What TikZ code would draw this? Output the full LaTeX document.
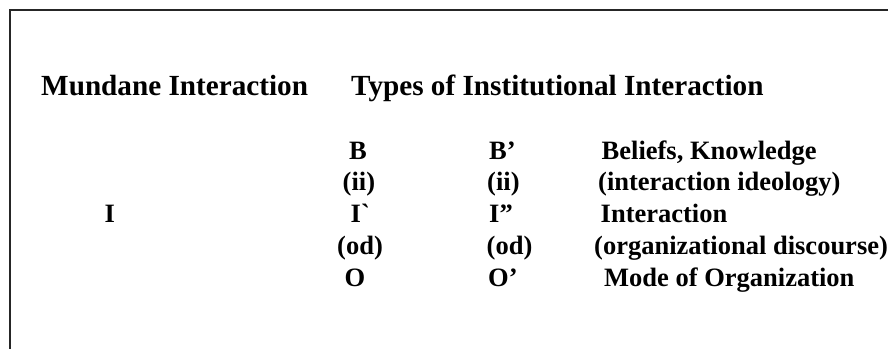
\documentclass[tikz,border=0pt]{standalone}
\usepackage{fontspec}
\setmainfont{Liberation Serif}
\newfontfamily\gravefont{Liberation Serif}[Ligatures=TeXOff]
\begin{document}
\begin{tikzpicture}[x=1pt,y=-1pt,
  hdr/.style={anchor=base west,inner sep=0pt,font=\fontsize{29.2}{32}\selectfont\bfseries},
  cell/.style={anchor=base west,inner sep=0pt,font=\fontsize{26.5}{29}\selectfont\bfseries},
  frame/.style={line width=2.4pt,draw=black!85,line join=miter}]
\useasboundingbox (0,0) rectangle (888,348);
\fill[white] (0,0) rectangle (888,348);
\coordinate (fr) at (892,10);
\coordinate (fc) at (10,10);
\coordinate (fb) at (10,352);
\draw[frame] (fr) -- (fc) -- (fb);
% headers
\node[hdr] (mundane) at (41,95) {Mundane Interaction};
\node[hdr] (types) at (351,95) {Types of Institutional Interaction};
% left column
\node[cell] (i0) at (104.5,222.8) {I};
% column 1
\node[cell] (b1) at (349,159) {B};
\node[cell] (ii1) at (342.5,190.9) {(ii)};
\node[cell] (i1) at (350.5,222.8) {{\gravefont\bfseries I`}};
\node[cell] (od1) at (337,254.7) {(od)};
\node[cell] (o1) at (344.5,286.6) {O};
% column 2
\node[cell] (b2) at (489,159) {B’};
\node[cell] (ii2) at (487,190.9) {(ii)};
\node[cell] (i2) at (489,222.8) {I”};
\node[cell] (od2) at (486.5,254.7) {(od)};
\node[cell] (o2) at (488,286.6) {O’};
% column 3
\node[cell] (bel) at (601.5,159) {Beliefs, Knowledge};
\node[cell] (ideo) at (598,190.9) {(interaction ideology)};
\node[cell] (inter) at (600.5,222.8) {Interaction};
\node[cell] (orgd) at (594,254.7) {(organizational discourse)};
\node[cell] (mode) at (604,286.6) {Mode of Organization};
\end{tikzpicture}
\end{document}
